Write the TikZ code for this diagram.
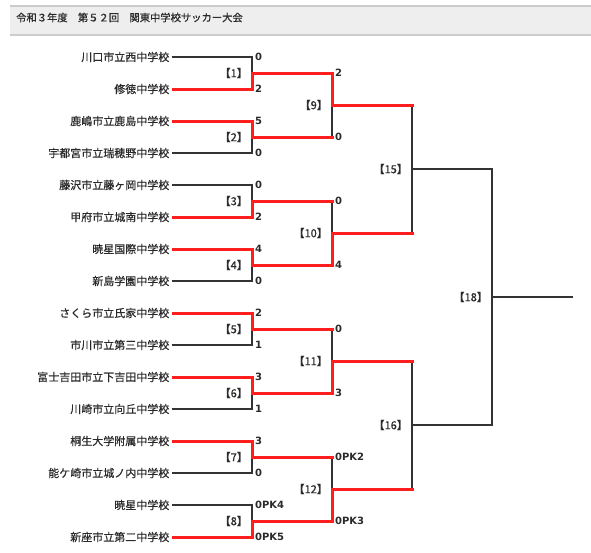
\documentclass[tikz,border=0pt]{standalone}
\usepackage{fontspec}
\setmainfont{Noto Sans CJK JP}[FakeBold=0.6]
\newfontfamily\scorefont{DejaVu Sans}
\definecolor{linegray}{HTML}{333333}
\definecolor{winred}{HTML}{FF1E1E}
\definecolor{hdrfill}{HTML}{EEEEEE}
\definecolor{hdrline}{HTML}{CCCCCC}
\definecolor{txt}{HTML}{2A2A2A}
\tikzset{
  lose/.style={draw=linegray, line width=2pt, line cap=rect},
  win/.style={draw=winred, line width=3pt, line cap=rect},
  team/.style={anchor=east, inner sep=0pt, font=\fontsize{11}{13}\selectfont, text=txt},
  score/.style={anchor=west, inner sep=0pt, font=\scorefont\bfseries\fontsize{10}{12}\selectfont, text=txt},
  matchno/.style={anchor=east, inner sep=0pt, font=\fontsize{11}{13}\selectfont, text=txt},
  hdrtext/.style={anchor=west, inner sep=0pt, font=\fontsize{10.3}{12}\selectfont, text=txt},
}
\begin{document}
\begin{tikzpicture}[x=1pt,y=-1pt]
\useasboundingbox (0,0) rectangle (591,552);
% header
\fill[hdrfill] (10,6) rectangle (591,35);
\draw[hdrline, line width=1.5pt] (10,6) -- (591,6);
\draw[hdrline, line width=1.5pt] (10,35) -- (591,35);
\node[hdrtext] (title) at (16,17.5) {令和３年度　第５２回　関東中学校サッカー大会};
% teams
\foreach \i/\name/\sc in {
  1/川口市立西中学校/0,
  2/修徳中学校/2,
  3/鹿嶋市立鹿島中学校/5,
  4/宇都宮市立瑞穂野中学校/0,
  5/藤沢市立藤ヶ岡中学校/0,
  6/甲府市立城南中学校/2,
  7/暁星国際中学校/4,
  8/新島学園中学校/0,
  9/さくら市立氏家中学校/2,
  10/市川市立第三中学校/1,
  11/富士吉田市立下吉田中学校/3,
  12/川崎市立向丘中学校/1,
  13/桐生大学附属中学校/3,
  14/能ケ崎市立城ノ内中学校/0,
  15/暁星中学校/0PK4,
  16/新座市立第二中学校/0PK5}{
  \pgfmathsetmacro\yy{57+32*(\i-1)}
  \coordinate (s\i) at (173,\yy);
  \coordinate (p\i) at (252,\yy);
  \node[team] (t\i) at (169.5,\yy) {\name};
  \node[score] (sc\i) at (255,\yy) {\sc};
}
% first round junctions
\foreach \m in {1,...,8}{
  \pgfmathsetmacro\yy{73+64*(\m-1)}
  \coordinate (j\m) at (252,\yy);
  \coordinate (c\m) at (332,\yy);
  \node[matchno] (n\m) at (248,\yy) {【\m】};
}
% second round
\foreach \k in {9,10,11,12}{
  \pgfmathsetmacro\yy{105+128*(\k-9)}
  \coordinate (j\k) at (332,\yy);
  \coordinate (d\k) at (412,\yy);
  \node[matchno] (n\k) at (328,\yy) {【\k】};
}
% second round scores
\foreach \m/\sc in {1/2,2/0,3/0,4/4,5/0,6/3,7/0PK2,8/0PK3}{
  \node[score] (r\m) at ([xshift=3pt]c\m) {\sc};
}
% third round and final
\coordinate (j15) at (412,169);
\coordinate (f15) at (492,169);
\coordinate (j16) at (412,425);
\coordinate (f16) at (492,425);
\coordinate (j18) at (492,297);
\coordinate (z) at (572,297);
\node[matchno] (n15) at (408,169) {【15】};
\node[matchno] (n16) at (408,425) {【16】};
\node[matchno] (n18) at (488,297) {【18】};
% losing lines (black)
\foreach \l/\m in {1/1,4/2,5/3,8/4,10/5,12/6,14/7,15/8}{
  \draw[lose] (s\l) -- (p\l) -- (j\m);
}
\foreach \l/\k in {2/9,3/10,5/11,7/12}{
  \draw[lose] (c\l) -- (j\k);
}
\draw[lose] (d9) -- (d10);
\draw[lose] (j15) -- (f15);
\draw[lose] (d11) -- (d12);
\draw[lose] (j16) -- (f16);
\draw[lose] (f15) -- (f16);
\draw[lose] (j18) -- (z);
% winning lines (red)
\foreach \w/\m in {2/1,3/2,6/3,7/4,9/5,11/6,13/7,16/8}{
  \draw[win] (s\w) -- (p\w) -- (j\m) -- (c\m);
}
\foreach \w/\k in {1/9,4/10,6/11,8/12}{
  \draw[win] (c\w) -- (j\k) -- (d\k);
}
\end{tikzpicture}
\end{document}
